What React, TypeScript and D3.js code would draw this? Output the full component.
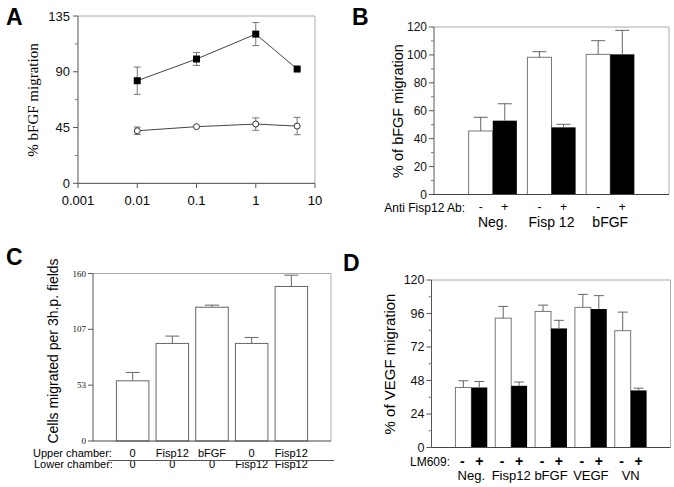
import * as d3 from 'd3';

const SANS = "'Liberation Sans', Arial, Helvetica, sans-serif";
const SERIF = "'Liberation Serif', 'Times New Roman', serif";

// Panel A: dose response (x is log dose)
const doses = [0.01, 0.1, 1, 5];
const fispMean = [82.8, 100.3, 120.4, 92.2];
const fispSd = [11, 5.2, 9.3, 0];
const abMean = [42.4, 45.7, 47.8, 46.2];
const abSd = [3, 0, 5, 7];
const aXTicks = [0.001, 0.01, 0.1, 1, 10];
const aYTicks = [0, 45, 90, 135];
const aYMinor = [22.5, 67.5, 112.5];

// Panel B
const bGroups = ['Neg.', 'Fisp 12', 'bFGF'];
const bMinus = [45.5, 98.3, 100.4];
const bMinusErr = [9.8, 4, 9.8];
const bPlus = [52.9, 48.1, 100.4];
const bPlusErr = [12.1, 2.2, 17.2];
const bYTicks = [0, 20, 40, 60, 80, 100, 120];
const bYMinor = [10, 30, 50, 70, 90, 110];

// Panel C
const cUpper = ['0', 'Fisp12', 'bFGF', '0', 'Fisp12'];
const cLower = ['0', '0', '0', 'Fisp12', 'Fisp12'];
const cCells = [57.5, 93.2, 127.8, 93.2, 147.6];
const cErr = [8, 7, 2, 5.7, 10.8];
const cYTicks = [0, 160 / 3, 320 / 3, 160];
const cYLabels = ['0', '53', '107', '160'];

// Panel D
const dGroups = ['Neg.', 'Fisp12', 'bFGF', 'VEGF', 'VN'];
const dMinus = [43, 92.7, 97.5, 100.4, 83.7];
const dMinusErr = [4.8, 8.4, 4.5, 9.3, 13.3];
const dPlus = [43, 44.2, 85.3, 99.2, 40.9];
const dPlusErr = [4.3, 2.7, 5.8, 9.6, 1.6];
const dYTicks = [0, 24, 48, 72, 96, 120];
const dYMinor = [12, 36, 60, 84, 108];

function Frame({ x0, x1, y0, y1 }: { x0: number; x1: number; y0: number; y1: number }) {
  return (
    <g>
      <line x1={x0} x2={x1} y1={y0} y2={y0} stroke="#aaa" />
      <line x1={x1} x2={x1} y1={y0} y2={y1} stroke="#aaa" />
      <line x1={x0} x2={x0} y1={y0} y2={y1} stroke="#555" />
      <line x1={x0} x2={x1} y1={y1} y2={y1} stroke="#444" />
    </g>
  );
}

function YAxis({ y, x, ticks, labels, minor, font, size, gap = 4 }: any) {
  return (
    <g>
      {ticks.map((t: number, i: number) => (
        <g key={'t' + i}>
          <line x1={x - 5} x2={x} y1={y(t)} y2={y(t)} stroke="#555" />
          <text x={x - 5 - gap} y={y(t)} dy="0.35em" textAnchor="end" fontFamily={font} fontSize={size} fill="#111">
            {labels ? labels[i] : t}
          </text>
        </g>
      ))}
      {(minor || []).map((t: number) => (
        <line key={'m' + t} x1={x - 3} x2={x} y1={y(t)} y2={y(t)} stroke="#777" />
      ))}
    </g>
  );
}

function UpErr({ cx, top, err, y, cap, color = '#666' }: any) {
  if (err <= 0) return null;
  return (
    <g stroke={color}>
      <line x1={cx} x2={cx} y1={y(top)} y2={y(top + err)} />
      <line x1={cx - cap / 2} x2={cx + cap / 2} y1={y(top + err)} y2={y(top + err)} />
    </g>
  );
}

function PanelA() {
  const x = d3.scaleLog().domain([0.001, 10]).range([78, 315]);
  const y = d3.scaleLinear().domain([0, 135]).range([183.3, 16]);
  const line = d3.line<number>().x((_, i) => x(doses[i])).y((v) => y(v));
  const cap = 7;
  const errBars = (mean: number[], sd: number[]) =>
    doses.map((d, i) =>
      sd[i] > 0 ? (
        <g key={i} stroke="#777">
          <line x1={x(d)} x2={x(d)} y1={y(mean[i] - sd[i])} y2={y(mean[i] + sd[i])} />
          <line x1={x(d) - cap / 2} x2={x(d) + cap / 2} y1={y(mean[i] + sd[i])} y2={y(mean[i] + sd[i])} />
          <line x1={x(d) - cap / 2} x2={x(d) + cap / 2} y1={y(mean[i] - sd[i])} y2={y(mean[i] - sd[i])} />
        </g>
      ) : null
    );
  return (
    <g>
      <text x={6} y={25} fontFamily={SANS} fontWeight="bold" fontSize={23}>A</text>
      <Frame x0={78} x1={315} y0={16} y1={183.3} />
      <YAxis y={y} x={78} ticks={aYTicks} minor={aYMinor} font={SANS} size={13} gap={3} />
      {aXTicks.map((t) => (
        <g key={t}>
          <line x1={x(t)} x2={x(t)} y1={183.3} y2={188} stroke="#555" />
          <text x={x(t)} y={205} textAnchor="middle" fontFamily={SANS} fontSize={13}>{String(t)}</text>
        </g>
      ))}
      <text transform="translate(38,100) rotate(-90)" textAnchor="middle" fontFamily={SERIF} fontSize={15}>% bFGF migration</text>
      {errBars(fispMean, fispSd)}
      {errBars(abMean, abSd)}
      <path d={line(fispMean) || ''} fill="none" stroke="#444" />
      <path d={line(abMean) || ''} fill="none" stroke="#444" />
      {doses.map((d, i) => (
        <rect key={'f' + i} x={x(d) - 3.5} y={y(fispMean[i]) - 3.5} width={7} height={7} fill="#000" />
      ))}
      {doses.map((d, i) => (
        <circle key={'o' + i} cx={x(d)} cy={y(abMean[i])} r={3} fill="#fff" stroke="#333" />
      ))}
    </g>
  );
}

function PanelB() {
  const x0 = 434, x1 = 669, y0 = 27, y1 = 194.5;
  const x = d3.scaleLinear().domain([0, bGroups.length + 1]).range([x0, x1]);
  const y = d3.scaleLinear().domain([0, 120]).range([y1, y0]);
  const w = x(0.41) - x(0);
  return (
    <g>
      <text x={352} y={25} fontFamily={SANS} fontWeight="bold" fontSize={23}>B</text>
      {bGroups.map((g, i) => {
        const c = x(i + 1);
        return (
          <g key={g}>
            <rect x={c - w} y={y(bMinus[i])} width={w} height={y1 - y(bMinus[i])} fill="#fff" stroke="#777" />
            <rect x={c} y={y(bPlus[i])} width={w} height={y1 - y(bPlus[i])} fill="#000" />
            <UpErr cx={c - w / 2} top={bMinus[i]} err={bMinusErr[i]} y={y} cap={14} />
            <UpErr cx={c + w / 2} top={bPlus[i]} err={bPlusErr[i]} y={y} cap={14} />
            <text x={c - w / 2} y={211} textAnchor="middle" fontFamily={SANS} fontSize={12}>-</text>
            <text x={c + w / 2} y={211} textAnchor="middle" fontFamily={SANS} fontSize={12}>+</text>
            <text x={c} y={227} textAnchor="middle" fontFamily={SANS} fontSize={14}>{g}</text>
          </g>
        );
      })}
      <Frame x0={x0} x1={x1} y0={y0} y1={y1} />
      <YAxis y={y} x={x0} ticks={bYTicks} minor={bYMinor} font={SANS} size={12} gap={2} />
      <text x={465} y={212} textAnchor="end" fontFamily={SANS} fontSize={12}>Anti Fisp12 Ab:</text>
      <text transform="translate(403,111) rotate(-90)" textAnchor="middle" fontFamily={SANS} fontSize={14.5}>% of bFGF migration</text>
    </g>
  );
}

function PanelC() {
  const x0 = 93, x1 = 331, y0 = 273.5, y1 = 441;
  const x = d3.scaleLinear().domain([0, cCells.length + 1]).range([x0, x1]);
  const y = d3.scaleLinear().domain([0, 160]).range([y1, y0]);
  const w = x(0.82) - x(0);
  return (
    <g>
      <text x={6} y={265} fontFamily={SANS} fontWeight="bold" fontSize={23}>C</text>
      {cCells.map((v, i) => {
        const c = x(i + 1);
        return (
          <g key={i}>
            <rect x={c - w / 2} y={y(v)} width={w} height={y1 - y(v)} fill="#fff" stroke="#666" />
            <UpErr cx={c} top={v} err={cErr[i]} y={y} cap={14} />
            <text x={c} y={456.5} textAnchor="middle" fontFamily={SANS} fontSize={11}>{cUpper[i]}</text>
            <text x={c} y={468} textAnchor="middle" fontFamily={SANS} fontSize={11}>{cLower[i]}</text>
          </g>
        );
      })}
      <Frame x0={x0} x1={x1} y0={y0} y1={y1} />
      <YAxis y={y} x={x0} ticks={cYTicks} labels={cYLabels} font={SERIF} size={9} gap={2} />
      <text x={33} y={456.5} fontFamily={SANS} fontSize={11}>Upper chamber:</text>
      <text x={34} y={468} fontFamily={SANS} fontSize={11}>Lower chamber:</text>
      <line x1={108} x2={334} y1={460.5} y2={460.5} stroke="#555" />
      <text transform="translate(58,351) rotate(-90)" textAnchor="middle" fontFamily={SANS} fontSize={14}>Cells migrated per 3h.p. fields</text>
    </g>
  );
}

function PanelD() {
  const x0 = 431.5, x1 = 670.5, y0 = 280, y1 = 447.5;
  const x = d3.scaleLinear().domain([0, dGroups.length + 1]).range([x0, x1]);
  const y = d3.scaleLinear().domain([0, 120]).range([y1, y0]);
  const w = x(0.4) - x(0);
  return (
    <g>
      <text x={343} y={271} fontFamily={SANS} fontWeight="bold" fontSize={23}>D</text>
      {dGroups.map((g, i) => {
        const c = x(i + 1);
        return (
          <g key={g}>
            <rect x={c - w} y={y(dMinus[i])} width={w} height={y1 - y(dMinus[i])} fill="#fff" stroke="#777" />
            <rect x={c} y={y(dPlus[i])} width={w} height={y1 - y(dPlus[i])} fill="#000" />
            <UpErr cx={c - w / 2} top={dMinus[i]} err={dMinusErr[i]} y={y} cap={10} />
            <UpErr cx={c + w / 2} top={dPlus[i]} err={dPlusErr[i]} y={y} cap={10} />
            <text x={c - w / 2 - 1} y={465.5} textAnchor="middle" fontFamily={SANS} fontSize={14} fontWeight="bold">-</text>
            <text x={c + w / 2} y={465.5} textAnchor="middle" fontFamily={SANS} fontSize={14} fontWeight="bold">+</text>
            <text x={c} y={480} textAnchor="middle" fontFamily={SANS} fontSize={13}>{g}</text>
          </g>
        );
      })}
      <Frame x0={x0} x1={x1} y0={y0} y1={y1} />
      <YAxis y={y} x={x0} ticks={dYTicks} minor={dYMinor} font={SANS} size={12.5} gap={2} />
      <text x={450} y={466} textAnchor="end" fontFamily={SANS} fontSize={12}>LM609:</text>
      <text transform="translate(395,364) rotate(-90)" textAnchor="middle" fontFamily={SANS} fontSize={15}>% of VEGF migration</text>
    </g>
  );
}

export default function App() {
  return (
    <div style={{ position: 'absolute', left: 0, top: 0 }}>
      <svg width={674} height={487} style={{ display: 'block', background: '#fff' }}>
        <PanelA />
        <PanelB />
        <PanelC />
        <PanelD />
      </svg>
    </div>
  );
}
